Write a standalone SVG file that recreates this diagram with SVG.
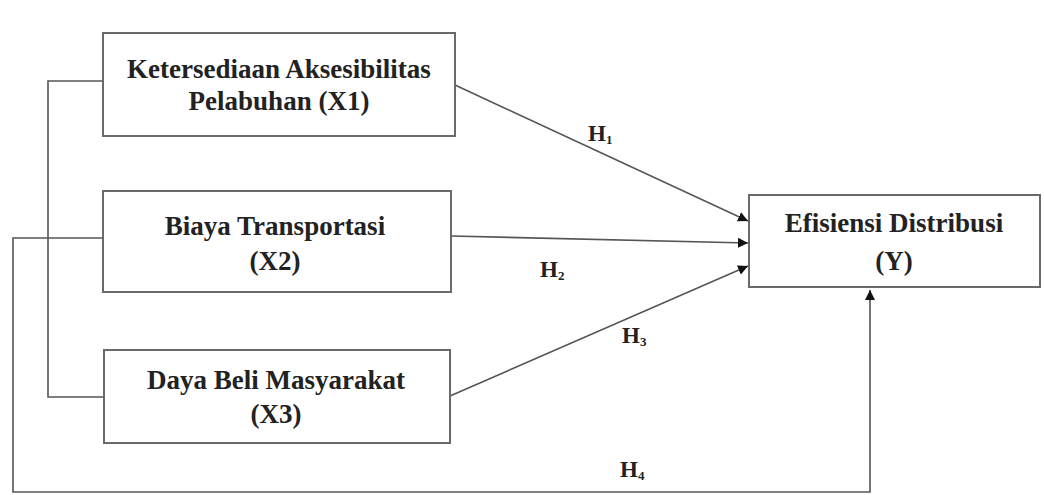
<svg xmlns="http://www.w3.org/2000/svg" width="1044" height="495" viewBox="0 0 1044 495">
<defs>
<style>
.box{fill:#fff;stroke:#6a6a6a;stroke-width:2}
.ln{fill:none;stroke:#555;stroke-width:1.6}
.t{font-family:"Liberation Serif","Times New Roman",serif;font-weight:bold;font-size:27px;fill:#222;text-anchor:middle}
.h{font-family:"Liberation Serif","Times New Roman",serif;font-weight:bold;font-size:23px;fill:#222}
.s{font-size:13px}
</style>
<marker id="ah" viewBox="0 0 10 10" refX="10" refY="5" markerWidth="10" markerHeight="10" markerUnits="userSpaceOnUse" orient="auto">
<path d="M0,0 L10,5 L0,10 Z" fill="#111"/>
</marker>
</defs>
<rect width="1044" height="495" fill="#fff"/>
<g id="connectors">
<polyline class="ln" points="103,81 48,81 48,397 104,397"/>
<polyline class="ln" points="103,238 13,238 13,492 870,492 870,290" marker-end="url(#ah)"/>
<line class="ln" x1="455" y1="85" x2="748" y2="221" marker-end="url(#ah)"/>
<line class="ln" x1="451" y1="236" x2="748" y2="243" marker-end="url(#ah)"/>
<line class="ln" x1="450" y1="396" x2="748" y2="266" marker-end="url(#ah)"/>
<text class="h" x="588" y="141">H<tspan class="s" dy="3">1</tspan></text>
<text class="h" x="540" y="277">H<tspan class="s" dy="3">2</tspan></text>
<text class="h" x="622" y="343">H<tspan class="s" dy="3">3</tspan></text>
<text class="h" x="620" y="477">H<tspan class="s" dy="3">4</tspan></text>
</g>
<g id="x1">
<rect class="box" x="103" y="33" width="352" height="103"/>
<text class="t" x="279" y="78">Ketersediaan Aksesibilitas</text>
<text class="t" x="279" y="110">Pelabuhan (X1)</text>
</g>
<g id="x2">
<rect class="box" x="103" y="191" width="348" height="101"/>
<text class="t" x="275" y="235">Biaya Transportasi</text>
<text class="t" x="275" y="270">(X2)</text>
</g>
<g id="x3">
<rect class="box" x="104" y="350" width="346" height="93"/>
<text class="t" x="276" y="389">Daya Beli Masyarakat</text>
<text class="t" x="276" y="423">(X3)</text>
</g>
<g id="y">
<rect class="box" x="749" y="195" width="291" height="92"/>
<text class="t" x="894" y="232">Efisiensi Distribusi</text>
<text class="t" x="894" y="270">(Y)</text>
</g>
</svg>
